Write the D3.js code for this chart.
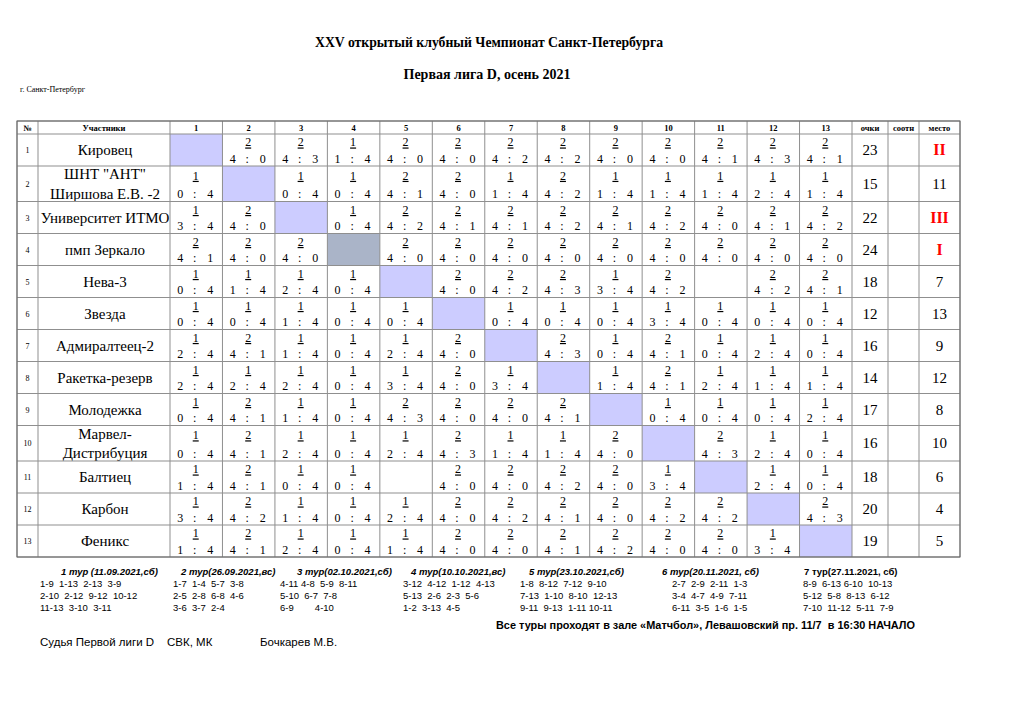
<!DOCTYPE html>
<html><head><meta charset="utf-8">
<script src="https://cdn.jsdelivr.net/npm/d3@7"></script>
<style>
html,body{margin:0;padding:0;background:#fff;}
svg{display:block;}
.pre{white-space:pre;}
</style></head>
<body>
<svg id="chart" width="1024" height="724"></svg>
<script>
// ---------------- DATA ----------------
const title = "XXV открытый клубный Чемпионат Санкт-Петербурга";
const subtitle = "Первая лига D, осень 2021";
const city = "г. Санкт-Петербург";
const headerLabels = ["№", "Участники"];
const columnNumbers = ["1","2","3","4","5","6","7","8","9","10","11","12","13"];
const summaryLabels = ["очки", "соотн", "место"];
const teams = [
  "Кировец",
  "ШНТ \"АНТ\"\nШиршова Е.В. -2",
  "Университет ИТМО",
  "пмп Зеркало",
  "Нева-3",
  "Звезда",
  "Адмиралтеец-2",
  "Ракетка-резерв",
  "Молодежка",
  "Марвел-\nДистрибуция",
  "Балтиец",
  "Карбон",
  "Феникс"
];
// match points (null = diagonal, "" = not played)
const matchPoints = [
  [null,2,2,1,2,2,2,2,2,2,2,2,2],
  [1,null,1,1,2,2,1,2,1,1,1,1,1],
  [1,2,null,1,2,2,2,2,2,2,2,2,2],
  [2,2,2,null,2,2,2,2,2,2,2,2,2],
  [1,1,1,1,null,2,2,2,1,2,"",2,2],
  [1,1,1,1,1,null,1,1,1,1,1,1,1],
  [1,2,1,1,1,2,null,2,1,2,1,1,1],
  [1,1,1,1,1,2,1,null,1,2,1,1,1],
  [1,2,1,1,2,2,2,2,null,1,1,1,1],
  [1,2,1,1,1,2,1,1,2,null,2,1,1],
  [1,2,1,1,"",2,2,2,2,1,null,1,1],
  [1,2,1,1,1,2,2,2,2,2,2,null,2],
  [1,2,1,1,1,2,2,2,2,2,2,1,null]
];
const matchScores = [
  [null,"4:0","4:3","1:4","4:0","4:0","4:2","4:2","4:0","4:0","4:1","4:3","4:1"],
  ["0:4",null,"0:4","0:4","4:1","4:0","1:4","4:2","1:4","1:4","1:4","2:4","1:4"],
  ["3:4","4:0",null,"0:4","4:2","4:1","4:1","4:2","4:1","4:2","4:0","4:1","4:2"],
  ["4:1","4:0","4:0",null,"4:0","4:0","4:0","4:0","4:0","4:0","4:0","4:0","4:0"],
  ["0:4","1:4","2:4","0:4",null,"4:0","4:2","4:3","3:4","4:2","","4:2","4:1"],
  ["0:4","0:4","1:4","0:4","0:4",null,"0:4","0:4","0:4","3:4","0:4","0:4","0:4"],
  ["2:4","4:1","1:4","0:4","2:4","4:0",null,"4:3","0:4","4:1","0:4","2:4","0:4"],
  ["2:4","2:4","2:4","0:4","3:4","4:0","3:4",null,"1:4","4:1","2:4","1:4","1:4"],
  ["0:4","4:1","1:4","0:4","4:3","4:0","4:0","4:1",null,"0:4","0:4","0:4","2:4"],
  ["0:4","4:1","2:4","0:4","2:4","4:3","1:4","1:4","4:0",null,"4:3","2:4","0:4"],
  ["1:4","4:1","0:4","0:4","","4:0","4:0","4:2","4:0","3:4",null,"2:4","0:4"],
  ["3:4","4:2","1:4","0:4","2:4","4:0","4:2","4:1","4:0","4:2","4:2",null,"4:3"],
  ["1:4","4:1","2:4","0:4","1:4","4:0","4:0","4:1","4:2","4:0","4:0","3:4",null]
];
const totalPoints = [23,15,22,24,18,12,16,14,17,16,18,20,19];
const places = ["II","11","III","I","7","13","9","12","8","10","6","4","5"];
const medalPlaces = ["I","II","III"];
const highlightedDiagonal = 3; // zero-based row index of darker diagonal cell

const roundTitles = [
  "1 тур (11.09.2021,сб)",
  "2 тур(26.09.2021,вс)",
  "3 тур(02.10.2021,сб)",
  "4 тур(10.10.2021,вс)",
  "5 тур(23.10.2021,сб)",
  "6 тур(20.11.2021, сб)",
  "7 тур(27.11.2021, сб)"
];
const roundPairs = [
  ["1-9  1-13  2-13  3-9", "2-10  2-12  9-12  10-12", "11-13  3-10  3-11"],
  ["1-7  1-4  5-7  3-8", "2-5  2-8  6-8  4-6", "3-6  3-7  2-4"],
  ["4-11 4-8  5-9  8-11", "5-10  6-7  7-8", "6-9        4-10"],
  ["3-12  4-12  1-12  4-13", "5-13  2-6  2-3  5-6", "1-2  3-13  4-5"],
  ["1-8  8-12  7-12  9-10", "7-13  1-10  8-10  12-13", "9-11  9-13  1-11 10-11"],
  ["2-7  2-9  2-11  1-3", "3-4  4-7  4-9  7-11", "6-11  3-5  1-6  1-5"],
  ["8-9  6-13 6-10  10-13", "5-12  5-8  8-13  6-12", "7-10  11-12  5-11  7-9"]
];
const venueNote = "Все туры проходят в зале «Матчбол», Левашовский пр. 11/7  в 16:30 НАЧАЛО";
const judgeNote = ["Судья Первой лиги D", "СВК, МК", "Бочкарев М.В."];

// ---------------- LAYOUT ----------------
const svg = d3.select("#chart");
const serif = "'Liberation Serif','Times New Roman',serif";
const sans = "'Liberation Sans',Arial,sans-serif";
const gridColor = "#8f8f8f";

const tableLeft = 17, numRight = 38, nameRight = 170, matchRight = 852;
const summaryEdges = [852, 888, 919, 960];
const headerTop = 121, headerBottom = 134;
const baseRow = 32, tallRow = 35.5;

const xCol = d3.scaleBand().domain(d3.range(13)).range([nameRight, matchRight]);

// row tops derived from number of lines in each name
const rowH = teams.map(t => t.includes("\n") ? tallRow : baseRow);
const rowTop = [];
rowH.reduce((acc, h, i) => { rowTop[i] = acc; return acc + h; }, headerBottom);
const tableBottom = rowTop[12] + rowH[12];

// titles
svg.append("text").attr("x", 489).attr("y", 47).attr("text-anchor", "middle")
  .attr("font-family", serif).attr("font-weight", "bold").attr("font-size", 14)
  .attr("textLength", 348).attr("lengthAdjust", "spacingAndGlyphs").text(title);
svg.append("text").attr("x", 487).attr("y", 79).attr("text-anchor", "middle")
  .attr("font-family", serif).attr("font-weight", "bold").attr("font-size", 14)
  .attr("textLength", 167).attr("lengthAdjust", "spacingAndGlyphs").text(subtitle);
svg.append("text").attr("x", 20).attr("y", 92)
  .attr("font-family", serif).attr("font-size", 8).text(city);

const g = svg.append("g");

// diagonal fills
g.selectAll("rect.diag").data(d3.range(13)).join("rect")
  .attr("x", i => xCol(i)).attr("y", i => rowTop[i])
  .attr("width", xCol.bandwidth()).attr("height", i => rowH[i])
  .attr("fill", i => i === highlightedDiagonal ? "#aab4c8" : "#ccccff");

// header texts
const hy = headerBottom - 3;
const hdr = [
  {x: (tableLeft + numRight) / 2, t: headerLabels[0]},
  {x: (numRight + nameRight) / 2, t: headerLabels[1]},
  ...columnNumbers.map((c, i) => ({x: xCol(i) + xCol.bandwidth() / 2, t: c})),
  ...summaryLabels.map((c, i) => ({x: (summaryEdges[i] + summaryEdges[i + 1]) / 2, t: c}))
];
g.selectAll("text.hdr").data(hdr).join("text")
  .attr("x", d => d.x).attr("y", hy).attr("text-anchor", "middle")
  .attr("font-family", serif).attr("font-weight", "bold").attr("font-size", 8.5)
  .text(d => d.t);

// rows
teams.forEach((team, r) => {
  const top = rowTop[r], h = rowH[r], bottom = top + h, mid = top + h / 2;
  // number
  g.append("text").attr("x", (tableLeft + numRight) / 2).attr("y", mid + 3)
    .attr("text-anchor", "middle").attr("font-family", serif).attr("font-size", 8)
    .text(r + 1);
  // name
  const lines = team.split("\n");
  lines.forEach((ln, k) => {
    const dy = (k - (lines.length - 1) / 2) * 19.5;
    g.append("text").attr("x", (numRight + nameRight) / 2 + 1).attr("y", mid + dy + 5)
      .attr("text-anchor", "middle").attr("font-family", serif).attr("font-size", 15)
      .text(ln);
  });
  // matches
  d3.range(13).forEach(c => {
    const p = matchPoints[r][c], s = matchScores[r][c];
    if (p === null || p === "") return;
    const cx = xCol(c) + xCol.bandwidth() / 2;
    g.append("text").attr("x", cx - 0.5).attr("y", top + h * 0.39)
      .attr("text-anchor", "middle").attr("font-family", serif).attr("font-size", 12)
      .attr("text-decoration", "underline").text(p);
    const [a, b] = s.split(":");
    const parts = [[a, -16], [":", -1.5], [b, 14]];
    parts.forEach(([t, dx]) => {
      g.append("text").attr("x", cx + dx).attr("y", bottom - 3.3)
        .attr("text-anchor", "middle").attr("font-family", serif).attr("font-size", 12)
        .text(t);
    });
  });
  // points
  g.append("text").attr("x", (summaryEdges[0] + summaryEdges[1]) / 2).attr("y", mid + 5)
    .attr("text-anchor", "middle").attr("font-family", serif).attr("font-size", 15)
    .text(totalPoints[r]);
  const medal = medalPlaces.includes(places[r]);
  g.append("text").attr("x", (summaryEdges[2] + summaryEdges[3]) / 2).attr("y", mid + 5)
    .attr("text-anchor", "middle").attr("font-family", serif)
    .attr("font-size", medal ? 16 : 15).attr("font-weight", medal ? "bold" : "normal")
    .attr("fill", medal ? "#ff0000" : "#000").text(places[r]);
});

// grid lines
const vx = [tableLeft, numRight, nameRight, ...d3.range(1, 13).map(i => xCol(i)), ...summaryEdges];
g.selectAll("line.v").data(vx).join("line")
  .attr("x1", d => d).attr("x2", d => d).attr("y1", headerTop).attr("y2", tableBottom)
  .attr("stroke", gridColor).attr("stroke-width", 1);
const hyLines = [headerTop, headerBottom, ...rowTop.slice(1), tableBottom];
g.selectAll("line.h").data(hyLines).join("line")
  .attr("x1", tableLeft).attr("x2", summaryEdges[3]).attr("y1", d => d).attr("y2", d => d)
  .attr("stroke", gridColor).attr("stroke-width", 1);
g.append("rect").attr("x", tableLeft).attr("y", headerTop)
  .attr("width", summaryEdges[3] - tableLeft).attr("height", tableBottom - headerTop)
  .attr("fill", "none").attr("stroke", "#666").attr("stroke-width", 1);

// footer: rounds
const roundTitleX = [61, 181, 297, 411, 529, 662, 804];
const roundLineX = [40, 173, 280, 403, 520, 672, 803];
roundTitles.forEach((t, i) => {
  svg.append("text").attr("x", roundTitleX[i]).attr("y", 575)
    .attr("font-family", sans).attr("font-size", 9.5).attr("font-weight", "bold")
    .attr("font-style", i === 6 ? "normal" : "italic").text(t);
  roundPairs[i].forEach((ln, k) => {
    svg.append("text").attr("class", "pre").attr("x", roundLineX[i]).attr("y", 587 + k * 11.8)
      .attr("font-family", sans).attr("font-size", 9.5).text(ln);
  });
});
svg.append("text").attr("class", "pre").attr("x", 496).attr("y", 629)
  .attr("font-family", sans).attr("font-size", 10.5).attr("font-weight", "bold")
  .attr("textLength", 419).attr("lengthAdjust", "spacingAndGlyphs").text(venueNote);
const judgeX = [40, 167, 260];
judgeNote.forEach((t, i) => {
  svg.append("text").attr("x", judgeX[i]).attr("y", 646)
    .attr("font-family", sans).attr("font-size", 11.5).text(t);
});
</script>
</body></html>
